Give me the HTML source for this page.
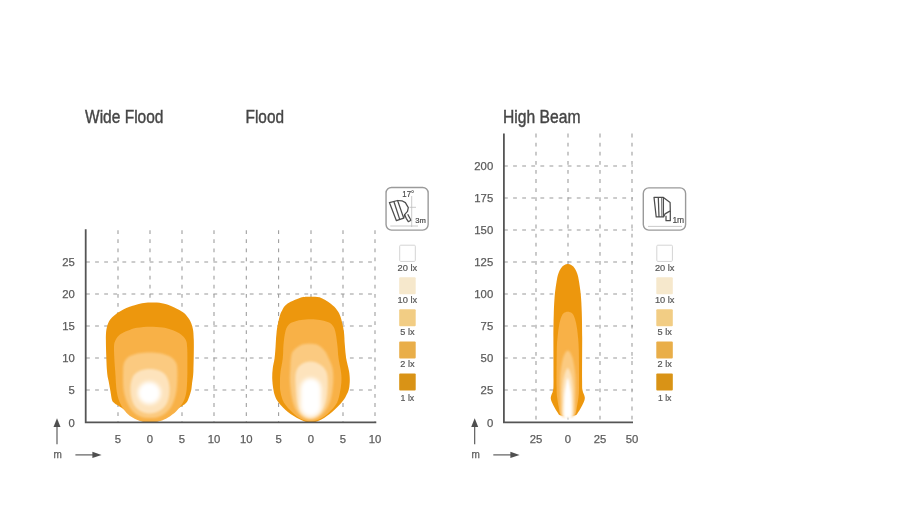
<!DOCTYPE html>
<html lang="en">
<head>
<meta charset="utf-8">
<title>Beam patterns</title>
<style>
  html, body { margin: 0; padding: 0; background: #ffffff; }
  body { width: 900px; height: 514px; overflow: hidden; }
  svg { display: block; }
  text { font-family: "Liberation Sans", sans-serif; fill: #5a5a5a; }
  .title { font-size: 18px; fill: #454545; stroke: #454545; stroke-width: 0.4px; }
  .tick { font-size: 11.3px; fill: #5e5e5e; stroke: #5e5e5e; stroke-width: 0.25px; }
  .lx { font-size: 9.3px; fill: #505050; stroke: #505050; stroke-width: 0.2px; }
  .grid line { stroke: #9a9a9a; stroke-width: 1.05; stroke-dasharray: 3.8 5.3; }
  .axis { stroke: #555555; stroke-width: 1.8; fill: none; }
  .arrow { stroke: #505050; stroke-width: 1.1; fill: #505050; }
  .arrow path { stroke: none; }
</style>
</head>
<body>
<svg width="900" height="514" viewBox="0 0 900 514">
  <defs>
    <filter id="soft" x="0" y="0" width="900" height="514" filterUnits="userSpaceOnUse"><feGaussianBlur stdDeviation="0.38"/></filter>
    <filter id="b1" x="-20%" y="-20%" width="140%" height="140%"><feGaussianBlur stdDeviation="0.6"/></filter>
    <filter id="b2" x="-20%" y="-20%" width="140%" height="140%"><feGaussianBlur stdDeviation="1.1"/></filter>
    <filter id="b3" x="-30%" y="-30%" width="160%" height="160%"><feGaussianBlur stdDeviation="2.0"/></filter>
    <filter id="b4" x="-40%" y="-40%" width="180%" height="180%"><feGaussianBlur stdDeviation="3.2"/></filter>
  </defs>
  <rect x="0" y="0" width="900" height="514" fill="#ffffff"/>
  <g filter="url(#soft)">

  <!-- ================= LEFT CHART ================= -->
  <text class="title" x="85" y="123" textLength="78.5" lengthAdjust="spacingAndGlyphs">Wide Flood</text>
  <text class="title" x="245.5" y="123" textLength="38.5" lengthAdjust="spacingAndGlyphs">Flood</text>

  <g class="grid">
    <!-- vertical -->
    <line x1="118" y1="230.2" x2="118" y2="422"/>
    <line x1="150" y1="230.2" x2="150" y2="422"/>
    <line x1="182" y1="230.2" x2="182" y2="422"/>
    <line x1="214" y1="230.2" x2="214" y2="422"/>
    <line x1="246.3" y1="230.2" x2="246.3" y2="422"/>
    <line x1="278.6" y1="230.2" x2="278.6" y2="422"/>
    <line x1="311" y1="230.2" x2="311" y2="422"/>
    <line x1="343" y1="230.2" x2="343" y2="422"/>
    <line x1="375" y1="230.2" x2="375" y2="422"/>
    <!-- horizontal -->
    <line x1="86" y1="390" x2="376" y2="390"/>
    <line x1="86" y1="358" x2="376" y2="358"/>
    <line x1="86" y1="326" x2="376" y2="326"/>
    <line x1="86" y1="294" x2="376" y2="294"/>
    <line x1="86" y1="262" x2="376" y2="262"/>
  </g>

  <!-- Wide Flood beam -->
  <g id="wide">
    <path filter="url(#b1)" fill="#ed9710" d="M152.0 302.6 C155.0 302.6 158.8 302.6 162.0 303.2 C165.2 303.8 167.6 304.6 171.0 306.0 C174.4 307.4 179.4 309.8 182.2 311.7 C185.0 313.6 186.1 314.8 187.8 317.2 C189.5 319.6 191.2 322.2 192.2 326.0 C193.2 329.8 193.6 332.5 193.8 340.0 C194.0 347.5 193.7 363.7 193.4 371.0 C193.1 378.3 192.4 380.7 192.0 384.0 C191.6 387.3 191.7 388.3 191.0 391.0 C190.3 393.7 188.9 397.9 188.0 400.0 C187.1 402.1 186.4 402.5 185.5 403.5 C184.6 404.5 184.1 404.7 182.4 405.8 C180.8 406.9 177.8 408.4 175.6 410.0 C173.3 411.6 171.2 414.0 168.9 415.6 C166.6 417.2 164.0 418.6 162.0 419.6 C160.0 420.6 159.0 421.3 157.0 421.8 C155.0 422.3 152.3 422.6 150.0 422.6 C147.7 422.6 145.4 422.6 143.0 421.8 C140.6 421.0 137.9 419.2 135.6 417.8 C133.2 416.4 131.0 414.8 128.9 413.3 C126.9 411.8 125.3 410.3 123.3 408.9 C121.3 407.5 118.2 405.8 116.7 404.8 C115.2 403.8 114.8 403.6 114.0 402.8 C113.2 402.0 112.6 402.0 112.0 400.0 C111.4 398.0 111.0 394.2 110.4 391.0 C109.8 387.8 109.2 384.3 108.6 381.0 C108.0 377.7 107.5 377.8 107.0 371.0 C106.5 364.2 105.9 347.5 105.9 340.0 C105.9 332.5 106.2 329.8 107.2 326.0 C108.2 322.2 109.5 320.0 112.2 317.2 C114.9 314.4 119.4 311.4 123.3 309.4 C127.2 307.4 132.1 306.1 135.5 305.0 C138.9 303.9 141.2 303.4 144.0 303.0 C146.8 302.6 149.0 302.6 152.0 302.6 Z"/>
    <path filter="url(#b1)" fill="#f8b146" d="M150.0 326.7 C154.3 326.7 159.2 327.0 163.0 327.6 C166.8 328.2 170.0 329.2 173.0 330.3 C176.0 331.4 178.9 332.9 181.0 334.5 C183.1 336.1 184.8 337.8 185.8 340.0 C186.8 342.2 186.9 342.8 187.2 348.0 C187.5 353.2 187.5 364.0 187.4 371.0 C187.3 378.0 187.2 384.9 186.6 390.0 C185.9 395.1 185.2 398.0 183.5 401.5 C181.8 405.0 179.1 408.3 176.5 411.0 C173.9 413.7 170.8 415.8 168.0 417.5 C165.2 419.2 163.0 420.3 160.0 421.0 C157.0 421.7 153.3 421.8 150.0 421.8 C146.7 421.8 142.8 421.7 140.0 421.0 C137.2 420.3 135.3 419.2 133.0 417.8 C130.7 416.4 128.5 415.0 126.4 412.7 C124.3 410.4 122.1 407.4 120.5 404.0 C118.9 400.6 117.7 397.5 116.8 392.0 C115.9 386.5 115.7 378.3 115.2 371.0 C114.7 363.7 113.9 353.2 114.0 348.0 C114.1 342.8 114.6 342.2 115.6 340.0 C116.6 337.8 118.0 336.0 120.0 334.5 C122.0 333.0 124.7 331.9 127.5 330.8 C130.3 329.7 133.2 328.5 137.0 327.8 C140.8 327.1 145.7 326.7 150.0 326.7 Z"/>
    <path filter="url(#b2)" fill="#fbca80" d="M149.6 352.4 C153.1 352.4 156.8 352.6 160.0 353.2 C163.2 353.8 166.5 354.7 169.0 356.0 C171.5 357.3 173.6 358.8 175.0 361.0 C176.4 363.2 177.1 364.0 177.3 369.0 C177.5 374.0 177.5 384.7 176.4 391.0 C175.3 397.3 173.6 402.8 171.0 407.0 C168.4 411.2 164.5 414.2 161.0 416.0 C157.5 417.8 153.7 418.0 150.0 418.0 C146.3 418.0 142.4 417.8 139.0 416.0 C135.6 414.2 132.0 411.2 129.5 407.0 C127.0 402.8 124.8 397.3 123.8 391.0 C122.8 384.7 123.0 374.0 123.2 369.0 C123.4 364.0 123.9 363.2 125.0 361.0 C126.1 358.8 127.7 357.3 130.0 356.0 C132.3 354.7 135.7 353.8 139.0 353.2 C142.3 352.6 146.1 352.4 149.6 352.4 Z"/>
    <path filter="url(#b2)" fill="#fde3bc" d="M149.6 369.0 C152.8 369.0 156.7 369.6 159.5 370.8 C162.3 372.1 164.8 373.6 166.5 376.5 C168.2 379.4 169.4 383.8 169.6 388.0 C169.8 392.2 169.1 398.2 167.5 402.0 C165.9 405.8 163.0 408.6 160.0 410.5 C157.0 412.4 153.0 413.5 149.6 413.5 C146.2 413.5 142.3 412.4 139.5 410.5 C136.7 408.6 134.1 405.8 132.6 402.0 C131.1 398.2 130.3 392.2 130.4 388.0 C130.5 383.8 131.4 379.4 133.0 376.5 C134.6 373.6 137.2 372.1 140.0 370.8 C142.8 369.6 146.3 369.0 149.6 369.0 Z"/>
    <ellipse filter="url(#b3)" fill="#ffffff" cx="149.3" cy="393" rx="11.4" ry="11.2"/>
  </g>

  <!-- Flood beam -->
  <g id="flood">
    <path filter="url(#b1)" fill="#ed9710" d="M310.7 296.8 C313.6 296.8 316.3 296.2 319.6 297.3 C322.9 298.4 327.6 301.4 330.5 303.6 C333.4 305.8 335.6 308.1 337.3 310.4 C339.0 312.7 339.6 313.8 340.7 317.2 C341.8 320.6 343.1 326.3 343.8 330.9 C344.5 335.4 344.4 340.0 344.8 344.5 C345.2 349.0 345.4 353.7 346.1 358.1 C346.8 362.5 348.4 367.4 349.0 371.0 C349.6 374.6 349.8 377.0 349.8 380.0 C349.8 383.0 349.5 386.3 348.9 389.0 C348.3 391.7 347.2 393.7 346.0 396.0 C344.8 398.3 343.8 400.0 341.4 402.7 C339.0 405.4 335.0 409.5 331.8 412.2 C328.6 414.9 325.0 417.4 322.3 419.0 C319.6 420.6 317.4 421.4 315.5 422.0 C313.6 422.6 312.3 422.6 310.7 422.6 C309.1 422.6 307.9 422.6 306.0 422.0 C304.1 421.4 302.1 420.6 299.1 419.0 C296.1 417.4 291.6 414.9 288.2 412.2 C284.8 409.5 280.9 405.4 278.7 402.7 C276.5 400.0 275.9 398.3 275.0 396.0 C274.1 393.7 273.8 392.0 273.3 389.0 C272.8 386.0 272.3 381.5 272.2 378.0 C272.1 374.5 272.4 371.3 272.8 368.0 C273.2 364.7 274.1 362.0 274.6 358.1 C275.1 354.2 275.4 349.0 275.7 344.5 C276.0 340.0 276.1 335.4 276.7 330.9 C277.3 326.3 278.5 320.6 279.4 317.2 C280.3 313.8 280.7 312.7 282.1 310.4 C283.5 308.1 284.3 305.8 287.6 303.6 C290.9 301.4 298.0 298.4 301.9 297.3 C305.8 296.2 307.8 296.8 310.7 296.8 Z"/>
    <path filter="url(#b1)" fill="#f8b146" d="M310.7 319.3 C313.9 319.3 317.3 319.6 320.0 320.0 C322.7 320.4 325.0 321.1 327.0 321.8 C329.0 322.6 330.4 323.0 331.8 324.5 C333.2 326.0 334.3 327.6 335.2 330.9 C336.1 334.2 336.8 340.0 337.3 344.5 C337.9 349.0 337.9 353.4 338.5 358.0 C339.1 362.6 340.5 368.0 341.0 372.0 C341.5 376.0 341.6 378.7 341.4 382.0 C341.2 385.3 340.7 388.6 340.0 392.0 C339.3 395.4 338.8 399.3 337.0 402.7 C335.2 406.1 331.8 409.8 329.0 412.5 C326.2 415.2 323.1 417.5 320.0 419.0 C316.9 420.5 313.9 421.5 310.7 421.5 C307.5 421.5 304.0 420.5 301.0 419.0 C298.0 417.5 295.3 415.2 292.5 412.5 C289.7 409.8 286.0 406.1 284.0 402.7 C282.0 399.3 281.2 395.4 280.5 392.0 C279.8 388.6 280.0 385.3 280.0 382.0 C280.0 378.7 280.0 376.0 280.5 372.0 C281.0 368.0 282.3 362.6 282.8 358.0 C283.3 353.4 283.1 349.0 283.5 344.5 C283.9 340.0 284.6 334.2 285.5 330.9 C286.4 327.6 287.5 326.0 288.9 324.5 C290.3 323.0 292.0 322.6 294.0 321.8 C296.0 321.1 298.2 320.4 301.0 320.0 C303.8 319.6 307.5 319.3 310.7 319.3 Z"/>
    <path filter="url(#b2)" fill="#fbca80" d="M309.5 343.8 C312.3 343.8 315.4 343.8 318.0 345.0 C320.6 346.2 323.2 349.1 325.0 351.3 C326.8 353.5 327.2 355.2 328.5 358.1 C329.8 361.0 331.7 364.6 332.5 368.6 C333.3 372.6 333.4 377.1 333.2 382.0 C332.9 386.9 332.2 393.3 331.0 398.0 C329.8 402.7 328.2 406.8 326.0 410.0 C323.8 413.2 320.6 415.9 318.0 417.5 C315.4 419.1 313.0 419.5 310.5 419.5 C308.0 419.5 305.4 419.1 303.0 417.5 C300.6 415.9 297.8 413.2 296.0 410.0 C294.2 406.8 293.0 402.7 292.0 398.0 C291.0 393.3 290.3 386.9 290.0 382.0 C289.7 377.1 290.1 372.6 290.3 368.6 C290.5 364.6 290.6 361.0 291.0 358.1 C291.4 355.2 291.3 353.5 293.0 351.3 C294.7 349.1 298.2 346.2 301.0 345.0 C303.8 343.8 306.7 343.8 309.5 343.8 Z"/>
    <path filter="url(#b2)" fill="#fde3bc" d="M310.5 361.5 C313.7 361.5 317.3 362.8 320.0 364.5 C322.7 366.2 325.2 368.6 326.5 372.0 C327.8 375.4 327.9 380.0 327.8 385.0 C327.7 390.0 327.3 397.3 326.0 402.0 C324.7 406.7 322.6 410.3 320.0 413.0 C317.4 415.7 313.7 418.0 310.5 418.0 C307.3 418.0 303.2 415.7 301.0 413.0 C298.8 410.3 297.9 406.7 297.0 402.0 C296.1 397.3 295.7 390.0 295.5 385.0 C295.3 380.0 295.1 375.4 296.0 372.0 C296.9 368.6 298.6 366.2 301.0 364.5 C303.4 362.8 307.3 361.5 310.5 361.5 Z"/>
    <rect filter="url(#b3)" fill="#ffffff" x="300.3" y="378" width="21" height="38.5" rx="10.5"/>
  </g>

  <!-- axes left -->
  <path class="axis" d="M85.7 229.3 L85.7 422.4 L376.3 422.4"/>

  <!-- tick labels left -->
  <g class="tick" text-anchor="end">
    <text x="74.8" y="426.8">0</text>
    <text x="74.8" y="394.2">5</text>
    <text x="74.8" y="362.2">10</text>
    <text x="74.8" y="330.2">15</text>
    <text x="74.8" y="298.2">20</text>
    <text x="74.8" y="266.2">25</text>
  </g>
  <g class="tick" text-anchor="middle">
    <text x="118" y="443">5</text>
    <text x="150" y="443">0</text>
    <text x="182" y="443">5</text>
    <text x="214" y="443">10</text>
    <text x="246.3" y="443">10</text>
    <text x="278.6" y="443">5</text>
    <text x="311" y="443">0</text>
    <text x="343" y="443">5</text>
    <text x="375" y="443">10</text>
  </g>

  <!-- arrows left -->
  <g class="arrow">
    <path d="M57 418.2 L60.5 426.9 L53.5 426.9 Z"/>
    <line x1="57" y1="426" x2="57" y2="444.2"/>
    <line x1="75.400" y1="454.900" x2="93" y2="454.900"/>
    <path d="M101.6 454.9 L92.4 458.1 L92.4 451.7 Z"/>
  </g>
  <text class="tick" x="53.500" y="458" style="font-size:10px">m</text>

  <!-- icon left -->
  <g id="iconL">
    <rect x="386.05" y="187.5" width="42.1" height="42.6" rx="5.5" ry="5.5" fill="#ffffff" stroke="#9a9a9a" stroke-width="1.4"/>
    <g fill="none" stroke="#4d4d4d" stroke-width="1.25" stroke-linejoin="round">
      <path d="M389.400 202.600 L397.600 200.500 L403.700 218.100 L396.400 220.700 Z"/>
      <path d="M393.800 201.300 L399.800 219.600"/>
      <path d="M397.600 200.500 L401.900 200.800 L405.400 202.600 L408.300 207.600 L407.500 211.300 L404.600 214.600 L403.700 218.100"/>
      <path d="M404.600 214.600 L406.200 218.300 L408.300 221.700 L411 220.200 L407.700 214.200"/>
    </g>
    <g fill="none" stroke="#bdbdbd" stroke-width="0.8">
      <line x1="411.700" y1="196" x2="411.700" y2="227"/>
      <line x1="390.300" y1="226" x2="418" y2="226"/>
      <line x1="409.500" y1="207.300" x2="416" y2="207.300"/>
    </g>
    <text x="402.3" y="196.9" style="font-size:9.4px; fill:#4a4a4a; stroke:#4a4a4a; stroke-width:0.2px" textLength="11.8" lengthAdjust="spacingAndGlyphs">17°</text>
    <text x="415.2" y="222.9" style="font-size:7.4px; fill:#4a4a4a; stroke:#4a4a4a; stroke-width:0.2px" textLength="10.6" lengthAdjust="spacingAndGlyphs">3m</text>
  </g>

  <!-- legend left -->
  <g id="legL">
    <rect x="399.7" y="245.2" width="15.6" height="16.2" rx="1" fill="#ffffff" stroke="#d4d4d4" stroke-width="1"/>
    <rect x="399.2" y="277.2" width="16.5" height="17" rx="1" fill="#f6e8cc"/>
    <rect x="399.2" y="309.3" width="16.5" height="17" rx="1" fill="#f2cd84"/>
    <rect x="399.2" y="341.6" width="16.5" height="17" rx="1" fill="#e9ae4a"/>
    <rect x="399.2" y="373.6" width="16.5" height="17" rx="1" fill="#d99312"/>
    <g class="lx" text-anchor="middle">
      <text x="407.4" y="271.0" textLength="19.6" lengthAdjust="spacingAndGlyphs">20 lx</text>
      <text x="407.4" y="303.0" textLength="19.6" lengthAdjust="spacingAndGlyphs">10 lx</text>
      <text x="407.4" y="335.0" textLength="14.2" lengthAdjust="spacingAndGlyphs">5 lx</text>
      <text x="407.4" y="367.0" textLength="14.2" lengthAdjust="spacingAndGlyphs">2 lx</text>
      <text x="407.4" y="401.1" textLength="13.6" lengthAdjust="spacingAndGlyphs">1 lx</text>
    </g>
  </g>

  <!-- ================= RIGHT CHART ================= -->
  <text class="title" x="503" y="123" textLength="77.5" lengthAdjust="spacingAndGlyphs">High Beam</text>

  <g class="grid">
    <line x1="536" y1="133.6" x2="536" y2="422"/>
    <line x1="568" y1="133.6" x2="568" y2="422"/>
    <line x1="600" y1="133.6" x2="600" y2="422"/>
    <line x1="632" y1="133.6" x2="632" y2="422"/>
    <line x1="504" y1="390" x2="633" y2="390"/>
    <line x1="504" y1="358" x2="633" y2="358"/>
    <line x1="504" y1="326" x2="633" y2="326"/>
    <line x1="504" y1="294" x2="633" y2="294"/>
    <line x1="504" y1="262" x2="633" y2="262"/>
    <line x1="504" y1="230" x2="633" y2="230"/>
    <line x1="504" y1="198" x2="633" y2="198"/>
    <line x1="504" y1="166" x2="633" y2="166"/>
  </g>

  <!-- High beam -->
  <g id="high">
    <path filter="url(#b1)" fill="#ed9710" d="M567.8 263.9 C569.1 263.9 570.4 264.4 571.6 265.2 C572.8 265.9 573.9 267.0 574.8 268.4 C575.7 269.8 576.5 271.6 577.2 273.5 C577.8 275.4 578.1 276.3 578.7 279.8 C579.3 283.3 580.3 289.2 580.8 294.7 C581.3 300.2 581.6 305.7 581.8 312.9 C582.0 320.1 582.1 326.5 582.2 337.8 C582.2 349.1 582.0 372.0 582.1 380.8 C582.2 389.6 582.1 387.8 582.6 390.5 C583.0 393.2 584.6 395.2 584.8 397.2 C585.0 399.2 584.3 400.7 583.6 402.5 C582.9 404.3 581.7 406.3 580.8 408.0 C579.9 409.7 578.8 411.3 578.0 412.5 C577.2 413.7 577.1 414.5 576.2 415.0 C575.3 415.5 574.2 415.6 572.8 415.7 C571.4 415.8 569.5 415.8 567.8 415.8 C566.1 415.8 564.2 415.8 562.8 415.7 C561.4 415.6 560.3 415.5 559.4 415.0 C558.5 414.5 558.4 413.7 557.6 412.5 C556.8 411.3 555.7 409.7 554.8 408.0 C553.9 406.3 552.7 404.3 552.0 402.5 C551.3 400.7 550.6 399.2 550.8 397.2 C551.0 395.2 552.5 393.2 553.0 390.5 C553.5 387.8 553.4 389.6 553.5 380.8 C553.6 372.0 553.4 349.1 553.4 337.8 C553.4 326.5 553.6 320.1 553.8 312.9 C554.0 305.7 554.3 300.2 554.8 294.7 C555.3 289.2 556.3 283.3 556.9 279.8 C557.5 276.3 557.8 275.4 558.4 273.5 C559.0 271.6 559.9 269.8 560.8 268.4 C561.7 267.0 562.8 265.9 564.0 265.2 C565.2 264.4 566.5 263.9 567.8 263.9 Z"/>
    <path filter="url(#b1)" fill="#f8b146" d="M567.8 311.8 C569.2 311.8 570.9 312.3 572.0 313.3 C573.1 314.3 573.8 315.7 574.6 317.8 C575.4 319.9 576.0 322.8 576.6 326.0 C577.2 329.2 577.6 333.0 578.0 337.0 C578.4 341.0 578.6 341.6 578.8 350.0 C579.0 358.4 579.1 379.5 579.0 387.5 C578.9 395.5 578.8 394.7 578.4 398.0 C578.0 401.3 577.4 404.6 576.8 407.3 C576.2 410.1 576.3 413.1 574.8 414.5 C573.3 415.9 570.1 415.6 567.8 415.6 C565.5 415.6 562.3 415.9 560.8 414.5 C559.3 413.1 559.4 410.1 558.8 407.3 C558.2 404.6 557.6 401.3 557.2 398.0 C556.8 394.7 556.7 395.5 556.6 387.5 C556.5 379.5 556.6 358.4 556.8 350.0 C557.0 341.6 557.2 341.0 557.6 337.0 C558.0 333.0 558.4 329.2 559.0 326.0 C559.6 322.8 560.2 319.9 561.0 317.8 C561.8 315.7 562.5 314.3 563.6 313.3 C564.7 312.3 566.4 311.8 567.8 311.8 Z"/>
    <path filter="url(#b2)" fill="#fbca80" d="M567.8 350.5 C569.3 350.5 571.1 353.9 572.2 357.0 C573.3 360.1 574.0 365.0 574.6 369.0 C575.2 373.0 575.5 375.8 575.6 381.0 C575.7 386.2 575.6 394.3 575.4 400.0 C575.2 405.7 575.5 412.3 574.2 415.0 C572.9 417.7 569.9 416.0 567.8 416.0 C565.7 416.0 562.7 417.7 561.4 415.0 C560.1 412.3 560.4 405.7 560.2 400.0 C560.0 394.3 559.9 386.2 560.0 381.0 C560.1 375.8 560.4 373.0 561.0 369.0 C561.6 365.0 562.3 360.1 563.4 357.0 C564.5 353.9 566.3 350.5 567.8 350.5 Z"/>
    <path filter="url(#b2)" fill="#fde3bc" d="M567.8 368.0 C568.9 368.0 570.3 372.0 571.2 375.0 C572.1 378.0 572.6 381.8 573.0 386.0 C573.4 390.2 573.4 395.0 573.4 400.0 C573.4 405.0 573.9 413.2 573.0 416.0 C572.1 418.8 569.5 416.5 567.8 416.5 C566.1 416.5 563.5 418.8 562.6 416.0 C561.7 413.2 562.2 405.0 562.2 400.0 C562.2 395.0 562.2 390.2 562.6 386.0 C563.0 381.8 563.5 378.0 564.4 375.0 C565.3 372.0 566.7 368.0 567.8 368.0 Z"/>
    <path filter="url(#b2)" fill="#ffffff" d="M567.8 378.0 C568.6 378.0 569.6 384.7 570.2 388.0 C570.8 391.3 571.2 393.2 571.4 398.0 C571.6 402.8 572.2 413.8 571.6 417.0 C571.0 420.2 569.1 417.5 567.8 417.5 C566.5 417.5 564.6 420.2 564.0 417.0 C563.4 413.8 564.0 402.8 564.2 398.0 C564.4 393.2 564.8 391.3 565.4 388.0 C566.0 384.7 567.0 378.0 567.8 378.0 Z"/>
  </g>

  <!-- axes right -->
  <path class="axis" d="M503.9 133.4 L503.9 422.4 L633 422.4"/>

  <g class="tick" text-anchor="end">
    <text x="493.2" y="426.8">0</text>
    <text x="493.2" y="394.2">25</text>
    <text x="493.2" y="362.2">50</text>
    <text x="493.2" y="330.2">75</text>
    <text x="493.2" y="298.2">100</text>
    <text x="493.2" y="266.2">125</text>
    <text x="493.2" y="234.2">150</text>
    <text x="493.2" y="202.2">175</text>
    <text x="493.2" y="170.2">200</text>
  </g>
  <g class="tick" text-anchor="middle">
    <text x="536" y="443">25</text>
    <text x="568" y="443">0</text>
    <text x="600" y="443">25</text>
    <text x="632" y="443">50</text>
  </g>

  <!-- arrows right -->
  <g class="arrow">
    <path d="M474.7 418.2 L478.2 426.9 L471.2 426.9 Z"/>
    <line x1="474.7" y1="426" x2="474.7" y2="444.2"/>
    <line x1="493.3" y1="454.9" x2="511" y2="454.9"/>
    <path d="M519.6 454.9 L510.4 458.1 L510.4 451.7 Z"/>
  </g>
  <text class="tick" x="471.500" y="458" style="font-size:10px">m</text>

  <!-- icon right -->
  <g id="iconR">
    <rect x="643.3" y="187.9" width="42.3" height="42.2" rx="5.5" ry="5.5" fill="#ffffff" stroke="#9a9a9a" stroke-width="1.4"/>
    <g fill="none" stroke="#4d4d4d" stroke-width="1.25" stroke-linejoin="round">
      <path d="M654 197.300 L663.400 197.300 L663.400 216.900 L656.200 216.900 Z"/>
      <path d="M658.300 197.300 L659 216.900"/>
      <path d="M661.600 197.300 L661.800 216.900" stroke-width="0.8"/>
      <path d="M663.400 197.500 L670.100 202.500 L670.300 210.900 L665 213.900 L663.600 216.900"/>
      <path d="M670.300 210.900 L670.300 220.700 L666 220.700 L666 215.800"/>
    </g>
    <line x1="648" y1="226.400" x2="682" y2="226.400" stroke="#bdbdbd" stroke-width="0.8"/>
    <text x="672.4" y="222.9" style="font-size:9.4px; fill:#4a4a4a; stroke:#4a4a4a; stroke-width:0.2px" textLength="11.8" lengthAdjust="spacingAndGlyphs">1m</text>
  </g>

  <!-- legend right -->
  <g id="legR">
    <rect x="656.8" y="245.2" width="15.6" height="16.2" rx="1" fill="#ffffff" stroke="#d4d4d4" stroke-width="1"/>
    <rect x="656.3" y="277.2" width="16.5" height="17" rx="1" fill="#f6e8cc"/>
    <rect x="656.3" y="309.3" width="16.5" height="17" rx="1" fill="#f2cd84"/>
    <rect x="656.3" y="341.6" width="16.5" height="17" rx="1" fill="#e9ae4a"/>
    <rect x="656.3" y="373.6" width="16.5" height="17" rx="1" fill="#d99312"/>
    <g class="lx" text-anchor="middle">
      <text x="664.7" y="271.0" textLength="19.6" lengthAdjust="spacingAndGlyphs">20 lx</text>
      <text x="664.7" y="303.0" textLength="19.6" lengthAdjust="spacingAndGlyphs">10 lx</text>
      <text x="664.7" y="335.0" textLength="14.2" lengthAdjust="spacingAndGlyphs">5 lx</text>
      <text x="664.7" y="367.0" textLength="14.2" lengthAdjust="spacingAndGlyphs">2 lx</text>
      <text x="664.7" y="401.1" textLength="13.6" lengthAdjust="spacingAndGlyphs">1 lx</text>
    </g>
  </g>
  </g>
</svg>
</body>
</html>
